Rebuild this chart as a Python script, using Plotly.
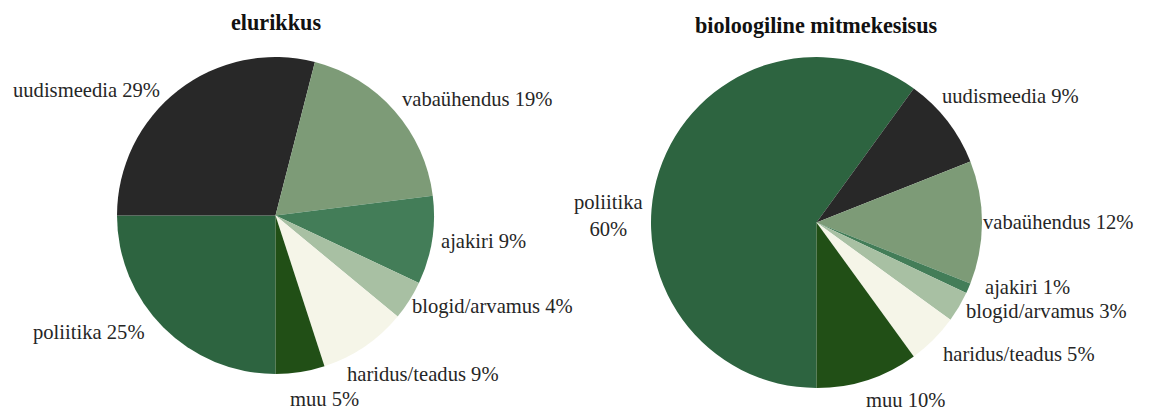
import math
import plotly.graph_objects as go

categories = ["poliitika", "uudismeedia", "vabaühendus", "ajakiri",
              "blogid/arvamus", "haridus/teadus", "muu"]
elurikkus = [25, 29, 19, 9, 4, 9, 5]
bio = [60, 9, 12, 1, 3, 5, 10]
titles = ["elurikkus", "bioloogiline mitmekesisus"]
colors = ["#2d6440", "#282828", "#7d9b77", "#437d58", "#a8c0a3", "#f5f5e8", "#214f16"]

PW, PH = 1149, 410
FONT = "Liberation Serif, Times New Roman, DejaVu Serif, serif"

# pie geometry in page pixels: (center x, center y, radius)
geoms = [(275.5, 215.5, 158.5), (816.5, 222.5, 165.5)]
# label nudges (pixels) relative to the point at 1.06 radius on the slice middle
nudges = [
    [(-12, -2), (-13, 7), (0, -5), (0, 0), (-5, 1), (-23, 20), (-12, 18)],
    [(-7, 47), (-13, -19), (-9, 0), (7, -5), (-1, 0), (2, 7), (-5, 11)],
]
breaks = [[False] * 7, [True] + [False] * 6]
title_pos = [(275.5, 22), (816, 25)]


def px(X):
    return X / PW


def py(Y):
    return 1 - Y / PH


fig = go.Figure()
for i, vals in enumerate([elurikkus, bio]):
    cx, cy, r = geoms[i]
    fig.add_trace(go.Pie(
        labels=categories, values=vals,
        textinfo="none", hoverinfo="label+percent",
        sort=False, direction="clockwise", rotation=180,
        marker=dict(colors=colors, line=dict(width=0)),
        domain=dict(x=[px(cx - r), px(cx + r)], y=[py(cy + r), py(cy - r)]),
        showlegend=False,
    ))
    total = sum(vals)
    cum = 0.0
    for j, (c, v) in enumerate(zip(categories, vals)):
        mid = 0.5 + (cum + v / 2) / total  # fraction clockwise from top (start at bottom)
        cum += v
        ang = 2 * math.pi * mid
        s, co = math.sin(ang), math.cos(ang)
        X = cx + 1.06 * r * s + nudges[i][j][0]
        Y = cy - 1.06 * r * co + nudges[i][j][1]
        sep = "<br>" if breaks[i][j] else " "
        fig.add_annotation(
            text=f"{c}{sep}{v}%", x=px(X), y=py(Y), xref="paper", yref="paper",
            xanchor="left" if s > 0 else "right", yanchor="middle", align="center",
            borderpad=0, borderwidth=0,
            showarrow=False, font=dict(family=FONT, size=20.6, color="#262626"))

for t, (X, Y) in zip(titles, title_pos):
    fig.add_annotation(text=f"<b>{t}</b>", x=px(X), y=py(Y), xref="paper", yref="paper",
                       xanchor="center", yanchor="middle", showarrow=False,
                       borderpad=0, borderwidth=0,
                       font=dict(family=FONT, size=22.2, color="#111111"))

fig.update_layout(width=PW, height=PH, margin=dict(l=0, r=0, t=0, b=0),
                  paper_bgcolor="white", plot_bgcolor="white")
fig.write_html("out.html", config={"displayModeBar": False},
               post_script="document.body.style.margin='0';document.body.style.overflow='hidden';")
